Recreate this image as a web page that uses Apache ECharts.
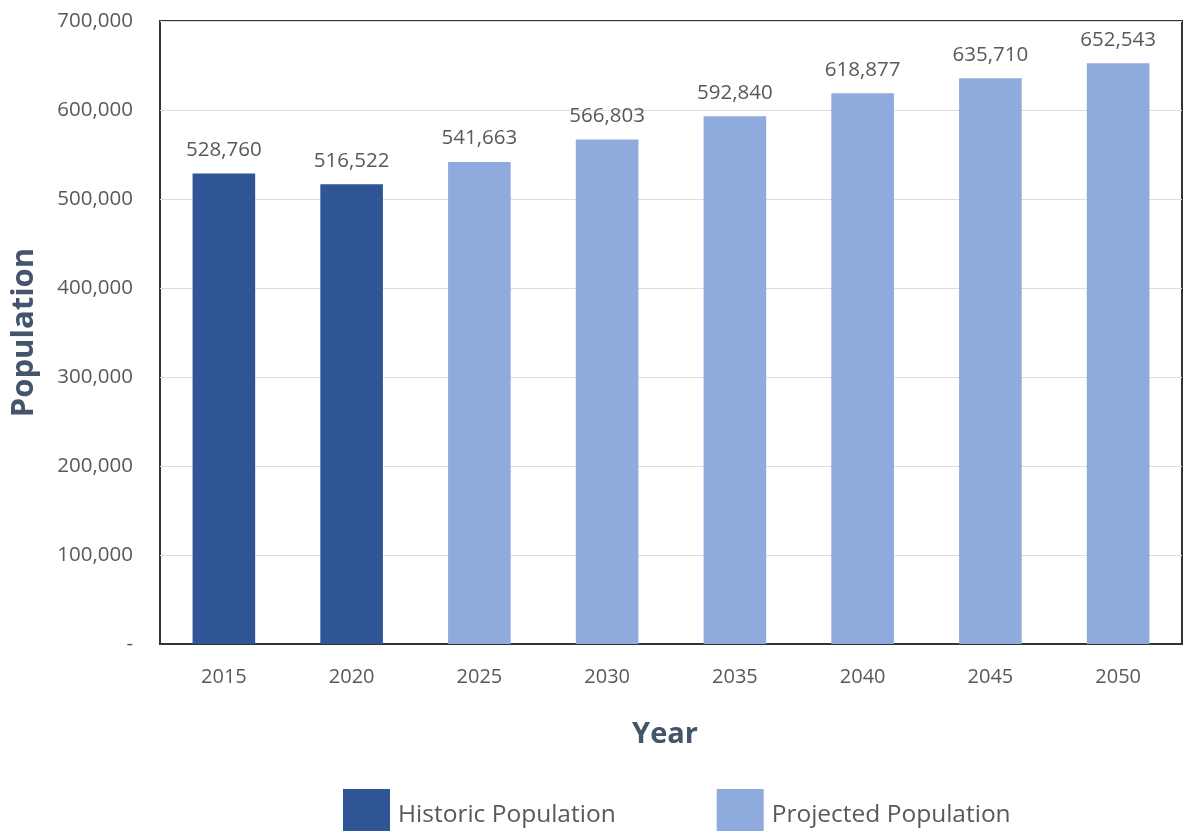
<!DOCTYPE html>
<html>
<head>
<meta charset="utf-8">
<script src="https://cdn.jsdelivr.net/npm/echarts@6/dist/echarts.min.js"></script>
<style>
  html, body { margin: 0; padding: 0; background: #fff; }
  #chart { width: 1188px; height: 831px; }
</style>
</head>
<body>
<div id="chart"></div>
<script>
var years = ['2015', '2020', '2025', '2030', '2035', '2040', '2045', '2050'];
var historic = [528760, 516522, '-', '-', '-', '-', '-', '-'];
var projected = ['-', '-', 541663, 566803, 592840, 618877, 635710, 652543];

var dom = document.getElementById('chart');
var myChart = echarts.init(dom);

var fontName = 'Open Sans';
function fmt(v) {
    return v === 0 ? '-' : v.toLocaleString('en-US');
}
var labelStyle = {
    show: true,
    position: 'top',
    distance: 13,
    fontFamily: fontName,
    fontSize: 20.5,
    color: '#595959',
    formatter: function (p) { return fmt(p.value); }
};

var option = {
    animation: false,
    textStyle: { fontFamily: fontName },
    legend: {
        data: ['Historic Population', 'Projected Population'],
        icon: 'rect',
        left: 343,
        top: 789,
        padding: 0,
        itemWidth: 47,
        itemHeight: 52,
        itemGap: 101,
        textStyle: { fontFamily: fontName, fontSize: 24.5, color: '#595959', padding: [0, 0, 0, 3] }
    },
    grid: {
        left: 160,
        right: 6,
        top: 21,
        bottom: 187,
        show: true,
        borderColor: '#333333',
        borderWidth: 2
    },
    xAxis: {
        type: 'category',
        data: years,
        name: 'Year',
        nameLocation: 'middle',
        nameGap: 76,
        nameTextStyle: { fontFamily: fontName, fontSize: 29, fontWeight: 'bold', color: '#44546A', padding: [0, 12, 0, 0] },
        axisLine: { lineStyle: { color: '#333333', width: 2 } },
        axisTick: { show: false },
        axisLabel: { fontFamily: fontName, fontSize: 20, color: '#595959', margin: 23 }
    },
    yAxis: {
        type: 'value',
        min: 0,
        max: 700000,
        interval: 100000,
        name: 'Population',
        nameLocation: 'middle',
        nameGap: 120,
        nameTextStyle: { fontFamily: fontName, fontSize: 31, fontWeight: 'bold', color: '#44546A' },
        axisLine: { show: false },
        axisTick: { show: false },
        splitLine: { lineStyle: { color: '#dedede', width: 1 } },
        axisLabel: {
            fontFamily: fontName, fontSize: 20.5, color: '#595959', margin: 27,
            formatter: fmt
        }
    },
    series: [
        {
            name: 'Historic Population',
            type: 'bar',
            stack: 'pop',
            barWidth: '49%',
            data: historic,
            itemStyle: { color: '#2F5597' },
            label: labelStyle
        },
        {
            name: 'Projected Population',
            type: 'bar',
            stack: 'pop',
            barWidth: '49%',
            data: projected,
            itemStyle: { color: '#8FAADC' },
            label: labelStyle
        }
    ]
};

if (option && typeof option === 'object') {
    myChart.setOption(option, true);
}
</script>
</body>
</html>
